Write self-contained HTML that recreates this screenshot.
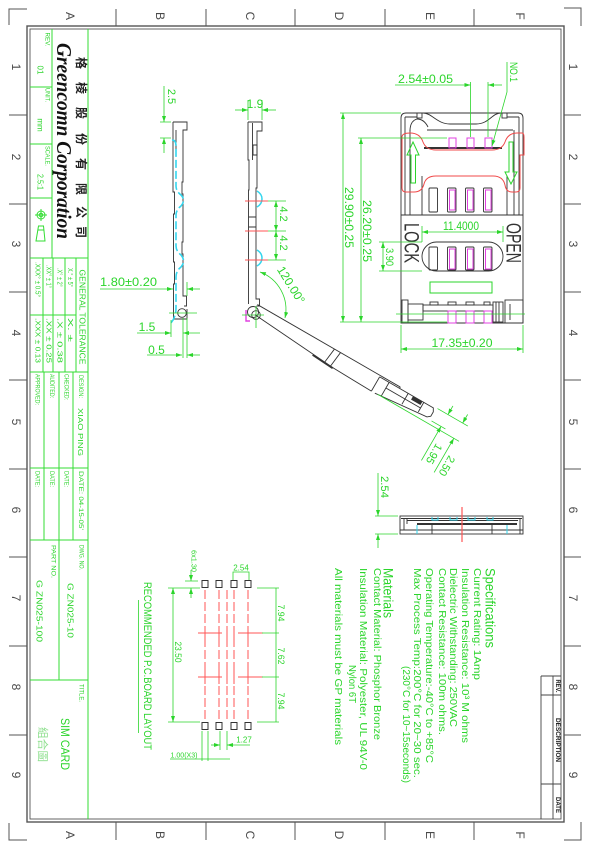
<!DOCTYPE html>
<html><head><meta charset="utf-8">
<style>
html,body{margin:0;padding:0;background:#fff;width:601px;height:850px;overflow:hidden}
svg{display:block}
text{font-family:"Liberation Sans","Noto Sans CJK SC",sans-serif}
.g{fill:#2bd52b}
.k{fill:#4a4a4a}
</style></head><body>
<svg width="601" height="850" viewBox="0 0 601 850" xmlns="http://www.w3.org/2000/svg">
<defs>
<marker id="ar" markerUnits="userSpaceOnUse" markerWidth="6" markerHeight="4" viewBox="0 0 6 4" refX="6" refY="2" orient="auto-start-reverse"><path d="M0,0 L6,2 L0,4 Z" fill="#2bd52b"/></marker>
</defs>
<rect width="601" height="850" fill="#fff"/>

<!-- ===== FRAME ===== -->
<g fill="none" stroke="#555">
<rect x="27" y="26" width="537" height="796" stroke-width="1.4"/>
<rect x="30" y="29" width="531" height="790" stroke-width="0.9"/>
<path d="M27,9 H9 V25 M564,8 H581 V26 M9,823 V840 H27 M581,822 V840 H564"/>
<path d="M116,9 V26 M206,9 V26 M295,9 V26 M385,9 V26 M474,9 V26 M116,822 V840 M206,822 V840 M295,822 V840 M385,822 V840 M474,822 V840"/>
<path d="M9,115 H27 M9,204 H27 M9,292 H27 M9,380 H27 M9,469 H27 M9,557 H27 M9,646 H27 M9,735 H27 M564,115 H581 M564,204 H581 M564,292 H581 M564,380 H581 M564,469 H581 M564,557 H581 M564,646 H581 M564,735 H581"/>
</g>
<g class="k" font-size="12" text-anchor="middle" dominant-baseline="central">
<text transform="translate(70,16) rotate(90)">A</text>
<text transform="translate(160,16) rotate(90)">B</text>
<text transform="translate(250,16) rotate(90)">C</text>
<text transform="translate(339,16) rotate(90)">D</text>
<text transform="translate(430,16) rotate(90)">E</text>
<text transform="translate(520,16) rotate(90)">F</text>
<text transform="translate(70,835) rotate(90)">A</text>
<text transform="translate(160,835) rotate(90)">B</text>
<text transform="translate(250,835) rotate(90)">C</text>
<text transform="translate(339,835) rotate(90)">D</text>
<text transform="translate(430,835) rotate(90)">E</text>
<text transform="translate(520,835) rotate(90)">F</text>
<text transform="translate(16,67) rotate(90)">1</text>
<text transform="translate(16,157) rotate(90)">2</text>
<text transform="translate(16,244) rotate(90)">3</text>
<text transform="translate(16,333) rotate(90)">4</text>
<text transform="translate(16,422) rotate(90)">5</text>
<text transform="translate(16,510) rotate(90)">6</text>
<text transform="translate(16,598) rotate(90)">7</text>
<text transform="translate(16,687) rotate(90)">8</text>
<text transform="translate(16,775) rotate(90)">9</text>
<text transform="translate(573,67) rotate(90)">1</text>
<text transform="translate(573,157) rotate(90)">2</text>
<text transform="translate(573,244) rotate(90)">3</text>
<text transform="translate(573,333) rotate(90)">4</text>
<text transform="translate(573,422) rotate(90)">5</text>
<text transform="translate(573,510) rotate(90)">6</text>
<text transform="translate(573,598) rotate(90)">7</text>
<text transform="translate(573,687) rotate(90)">8</text>
<text transform="translate(573,775) rotate(90)">9</text>
</g>

<!-- ===== TITLE BLOCK ===== -->
<g stroke="#33dd33" stroke-width="1" fill="none">
<path d="M88,29 V819 M52,29 V258 M30,87 H52 M30,144 H52 M30,198 H52 M30,258 H88"/>
<path d="M43,258 V372 M53,258 V372 M65,258 V372 M76,258 V372 M30,315 H76 M30,372 H88"/>
<path d="M44,372 V540 M59,372 V680 M73,372 V540 M30,468 H88 M30,540 H88 M30,680 H88"/>
<circle cx="41" cy="215" r="4"/>
<circle cx="41" cy="215" r="1.8"/>
<path d="M35,215 H47 M41,209 V221"/>
<path d="M38.5,226 H43.5 L45,241 H36 Z M38,230 H44"/>
</g>
<g class="g" text-anchor="middle" dominant-baseline="central">
<text transform="translate(47,39.5) rotate(90)" font-size="6.5" textLength="14" lengthAdjust="spacingAndGlyphs">REV.</text>
<text transform="translate(40,70) rotate(90)" font-size="8">01</text>
<text transform="translate(47,95) rotate(90)" font-size="6.5" textLength="14" lengthAdjust="spacingAndGlyphs">UNIT.</text>
<text transform="translate(40,125) rotate(90)" font-size="8">mm</text>
<text transform="translate(47,156) rotate(90)" font-size="6.5" textLength="20" lengthAdjust="spacingAndGlyphs">SCALE.</text>
<text transform="translate(40,182) rotate(90)" font-size="8" textLength="16" lengthAdjust="spacingAndGlyphs">2.5:1</text>
<text transform="translate(82,317) rotate(90)" font-size="8" textLength="95" lengthAdjust="spacingAndGlyphs">GENERAL  TOLERANCE</text>
<text transform="translate(69.5,277.5) rotate(90)" font-size="7" textLength="19" lengthAdjust="spacingAndGlyphs">X.° ± 5°</text>
<text transform="translate(59,277.5) rotate(90)" font-size="7" textLength="19" lengthAdjust="spacingAndGlyphs">.X° ± 2°</text>
<text transform="translate(48,276.5) rotate(90)" font-size="7" textLength="23" lengthAdjust="spacingAndGlyphs">.XX° ± 1°</text>
<text transform="translate(37,279.5) rotate(90)" font-size="7" textLength="35" lengthAdjust="spacingAndGlyphs">.XXX° ± 0.5°</text>
<text transform="translate(69.5,330) rotate(90)" font-size="7" textLength="24" lengthAdjust="spacingAndGlyphs">X.    ±</text>
<text transform="translate(59,340.5) rotate(90)" font-size="7" textLength="45" lengthAdjust="spacingAndGlyphs">.X   ± 0.38</text>
<text transform="translate(48,340.5) rotate(90)" font-size="7" textLength="45" lengthAdjust="spacingAndGlyphs">.XX  ± 0.25</text>
<text transform="translate(37,340.5) rotate(90)" font-size="7" textLength="45" lengthAdjust="spacingAndGlyphs">.XXX ± 0.13</text>
<text transform="translate(80.5,386.5) rotate(90)" font-size="6.5" textLength="23" lengthAdjust="spacingAndGlyphs">DESIGN:</text>
<text transform="translate(80.5,432) rotate(90)" font-size="7.5" textLength="48" lengthAdjust="spacingAndGlyphs">XIAO  PING</text>
<text transform="translate(66,387) rotate(90)" font-size="6.5" textLength="26" lengthAdjust="spacingAndGlyphs">CHECKED:</text>
<text transform="translate(51.5,386) rotate(90)" font-size="6.5" textLength="24" lengthAdjust="spacingAndGlyphs">AUDITED:</text>
<text transform="translate(37,389.5) rotate(90)" font-size="6.5" textLength="31" lengthAdjust="spacingAndGlyphs">APPROVED:</text>
<text transform="translate(80.5,500.5) rotate(90)" font-size="6.5" textLength="59" lengthAdjust="spacingAndGlyphs">DATE: 04-15-05'</text>
<text transform="translate(66,479) rotate(90)" font-size="6.5" textLength="16" lengthAdjust="spacingAndGlyphs">DATE:</text>
<text transform="translate(51.5,479) rotate(90)" font-size="6.5" textLength="16" lengthAdjust="spacingAndGlyphs">DATE:</text>
<text transform="translate(37,479) rotate(90)" font-size="6.5" textLength="16" lengthAdjust="spacingAndGlyphs">DATE:</text>
<text transform="translate(81,557.5) rotate(90)" font-size="6.5" textLength="25" lengthAdjust="spacingAndGlyphs">DWG. NO.</text>
<text transform="translate(70,610.5) rotate(90)" font-size="8" textLength="55" lengthAdjust="spacingAndGlyphs">G  ZN025-10</text>
<text transform="translate(53,561.5) rotate(90)" font-size="6.5" textLength="33" lengthAdjust="spacingAndGlyphs">PART NO.</text>
<text transform="translate(39,611) rotate(90)" font-size="8" textLength="62" lengthAdjust="spacingAndGlyphs">G  ZN025-100</text>
<text transform="translate(81,693) rotate(90)" font-size="6.5" textLength="18" lengthAdjust="spacingAndGlyphs">TITLE.</text>
<text transform="translate(65,744) rotate(90)" font-size="12" textLength="52" lengthAdjust="spacingAndGlyphs">SIM  CARD</text>
<text transform="translate(43,744.5) rotate(90)" font-size="11" style="fill:#8ddf8d;font-family:'Noto Sans CJK TC','Noto Sans CJK SC',sans-serif" textLength="35" lengthAdjust="spacingAndGlyphs">組合圖</text>
</g>
<!-- company name -->
<text transform="translate(57,43) rotate(90)" style="font-family:'Liberation Serif',serif;font-weight:bold;font-style:italic;font-size:21px;fill:#111" textLength="196" lengthAdjust="spacingAndGlyphs">Greencomn Corporation</text>
<g text-anchor="middle" dominant-baseline="central" style="font-family:'Noto Serif CJK SC','Noto Sans CJK SC',serif;font-size:12px;font-weight:bold;fill:#222">
<text transform="translate(81,63) rotate(90)">格</text>
<text transform="translate(81,88) rotate(90)">棱</text>
<text transform="translate(81,113) rotate(90)">股</text>
<text transform="translate(81,139) rotate(90)">份</text>
<text transform="translate(81,164) rotate(90)">有</text>
<text transform="translate(81,189) rotate(90)">限</text>
<text transform="translate(81,212) rotate(90)">公</text>
<text transform="translate(81,232) rotate(90)">司</text>
</g>

<!-- ===== REV box bottom right ===== -->
<g stroke="#444" fill="none" stroke-width="0.9">
<path d="M541,676 H561 M541,676 V819 M553,676 V819 M541,695 H561 M541,784 H561"/>
</g>
<g fill="#222" font-size="6" font-weight="bold" text-anchor="middle" dominant-baseline="central">
<text transform="translate(557,686) rotate(90)" textLength="13" lengthAdjust="spacingAndGlyphs">REV.</text>
<text transform="translate(557,740) rotate(90)" textLength="44" lengthAdjust="spacingAndGlyphs">DESCRIPTION</text>
<text transform="translate(557,805) rotate(90)" textLength="16" lengthAdjust="spacingAndGlyphs">DATE</text>
</g>

<!-- ===== SIDE VIEW 1 ===== -->
<g stroke="#333" stroke-width="0.9" fill="none">
<path d="M173,122 H187 V130 H183 V182 H182 V194 H183 V242 H182 V254 H183 V296 H186.5 V306 H184"/>
<path d="M173,122 V192 H174.5 V214 H173.5 V262 H174.5 V284 H173.5 V319 H187 V309"/>
<path d="M176,130 V150"/>
<circle cx="182" cy="313" r="4.3"/>
</g>
<path d="M172,140 Q176,140 176,146 V186 Q176,191 181,195 Q186,200 181,206 Q176,210 176,215 V246 Q176,251 181,255 Q186,261 181,267 Q176,271 176,277 V308 Q176,317 171,323" stroke="#33d6ee" stroke-width="1.6" fill="none" stroke-dasharray="8,3"/>
<g stroke="#2bd52b" stroke-width="0.8" fill="none">
<path d="M164,86 V122" marker-end="url(#ar)"/>
<path d="M164,153 V138" marker-end="url(#ar)"/>
<path d="M160,122 H171 M160,138 H171"/>
<path d="M100,289 H173" marker-end="url(#ar)"/>
<path d="M200,289 H187" marker-end="url(#ar)"/>
<path d="M187,282 V296"/>
<path d="M137,333 H171" marker-end="url(#ar)"/>
<path d="M200,333 H183" marker-end="url(#ar)"/>
<path d="M171,320 V337 M183,318 V358"/>
<path d="M147,355 H182" marker-end="url(#ar)"/>
<path d="M200,355 H187" marker-end="url(#ar)"/>
<path d="M187,318 V358"/>
<path d="M169,313 H197"/>
</g>
<g class="g" dominant-baseline="central">
<text transform="translate(171,96.5) rotate(90)" font-size="11" text-anchor="middle">2.5</text>
<text x="100" y="282" font-size="12" textLength="57" lengthAdjust="spacingAndGlyphs">1.80±0.20</text>
<text x="147" y="327" font-size="12" text-anchor="middle">1.5</text>
<text x="156.5" y="350" font-size="12" text-anchor="middle">0.5</text>
</g>

<!-- ===== SIDE VIEW 2 (lid open) ===== -->
<g stroke="#333" stroke-width="0.9" fill="none">
<path d="M248,122 H262 V131 H257 V188 H256 V299 H259.5 V306 H256.5"/>
<path d="M248,122 V160 H249 V190 H248.5 V304"/>
<path d="M252.5,123 V160 M253,145 H257 V155 H253 Z M248.5,217 H256 M248.5,227 H256"/>
<circle cx="256" cy="315" r="4.3"/>
<circle cx="253" cy="312" r="5.5"/>
</g>
<path d="M257,191 Q262,194 262,199 Q262,204 257,207 M257,250 Q262,253 262,258 Q262,263 257,266" stroke="#33d6ee" stroke-width="1.5" fill="none"/>
<path d="M245,201 H268 M245,231 H268 M245,260 H268" stroke="#f55" stroke-width="1"/>
<path d="M246,310 V321 H250" stroke="#e040e0" stroke-width="1.4" fill="none"/>
<g stroke="#2bd52b" stroke-width="0.8" fill="none">
<path d="M268,201 H286 M268,231 H286 M268,260 H286"/>
<path d="M276,201 V231" marker-start="url(#ar)" marker-end="url(#ar)"/>
<path d="M276,231 V260" marker-start="url(#ar)" marker-end="url(#ar)"/>
<path d="M248,100 V120 M262,100 V120"/>
<path d="M235,110 H248" marker-end="url(#ar)"/>
<path d="M276,110 H262" marker-end="url(#ar)"/>
<path d="M242,315 H264 M256,306 V328"/>
<path d="M260,272 A40,40 0 0 1 285,318" marker-start="url(#ar)" marker-end="url(#ar)"/>
</g>
<g class="g" dominant-baseline="central" text-anchor="middle">
<text transform="translate(283,214) rotate(90)" font-size="11">4.2</text>
<text transform="translate(283,243) rotate(90)" font-size="11">4.2</text>
<text x="255" y="104" font-size="12">1.9</text>
<text transform="translate(291,285) rotate(58)" font-size="12">120.00°</text>
</g>
<!-- lid -->
<g transform="translate(256,313) rotate(30)" stroke="#333" stroke-width="0.9" fill="none">
<path d="M-3,-8 H162"/>
<path d="M0,2 L95,9 L139,10"/>
<path d="M139,-6.5 H201 L203,-3 V2 L200,4.5 L143,10"/>
<path d="M139,-6.5 V10 M162,-8 V-6.5"/>
<path d="M86,-8 L84,8.7 M93,-8 L91,9.2"/>
<path d="M150,-6.5 V9 M172,-6.5 V6 M190,-6.5 V4.5 M150,0 H190"/>
<path d="M70,8 L94,9.5" stroke-width="1.8"/>
<rect x="178" y="-6" width="10" height="3" fill="#333"/>
</g>
<g transform="translate(256,313) rotate(30)" stroke="#2bd52b" stroke-width="0.8" fill="none">
<path d="M205,-8 H240 M206,5.7 H222 M146,9.6 H240"/>
<path d="M217,-18 V-8" marker-end="url(#ar)"/>
<path d="M217,45 V5.7" marker-end="url(#ar)"/>
<path d="M234,-18 V-8" marker-end="url(#ar)"/>
<path d="M234,49 V9.6" marker-end="url(#ar)"/>
</g>
<g transform="translate(256,313) rotate(30)" class="g" text-anchor="middle" dominant-baseline="central" font-size="11">
<text transform="translate(224,33) rotate(90)">1.95</text>
<text transform="translate(241,37) rotate(90)">2.50</text>
</g>

<!-- ===== TOP VIEW ===== -->
<g stroke="#333" stroke-width="0.9" fill="none">
<path d="M401,323 V118 Q401,113 406,113 H518 Q523,113 523,118 V323 Z"/>
<path d="M405,117 V215 M519,117 V215 M405,117 H417 M507,117 H519 M410,130 V215 M514,130 V215"/>
<path d="M423,113 C432,113 437,124 450,124 H476 C489,124 492,113 501,113"/>
<path d="M427,130 H513"/>
<path d="M410,131 Q410,121 417,119 Q424,119 428,127"/>
<rect x="417" y="113" width="5" height="5"/>
<rect x="502" y="113" width="5" height="5"/>
<path d="M424,148 H502" stroke-width="2"/>
<path d="M422,176 V215 M507,176 V215 M401,215 H523"/>
<rect x="429" y="188" width="8.5" height="24" rx="1"/>
<rect x="447.5" y="188" width="8.5" height="24" rx="1"/>
<rect x="465.5" y="188" width="8.5" height="24" rx="1"/>
<rect x="483.5" y="188" width="8.5" height="24" rx="1"/>
<rect x="422" y="242" width="81" height="29" rx="14.5"/>
<rect x="429" y="247" width="8.5" height="23" rx="1"/>
<rect x="447.5" y="247" width="8.5" height="23" rx="1"/>
<rect x="465.5" y="247" width="8.5" height="23" rx="1"/>
<rect x="483.5" y="247" width="8.5" height="23" rx="1"/>
<rect x="402" y="300" width="6" height="23"/>
<rect x="408" y="304" width="15" height="16"/>
<rect x="493" y="302" width="10" height="20"/>
<rect x="505" y="300" width="18" height="23"/>
<path d="M496,302 V322 M499,302 V322 M510,304 V320"/>
<rect x="423" y="305" width="70" height="6"/>
<rect x="430" y="302" width="8" height="3"/>
<rect x="448" y="302" width="8" height="3"/>
<rect x="466" y="302" width="8" height="3"/>
<rect x="484" y="302" width="6" height="3"/>
</g>
<g stroke="#e040e0" stroke-width="1" fill="none">
<rect x="449" y="138" width="7" height="10"/>
<rect x="467" y="138" width="7" height="10"/>
<rect x="485" y="138" width="7" height="10"/>
<rect x="449.5" y="190" width="5.5" height="20"/>
<rect x="467.5" y="190" width="5.5" height="20"/>
<rect x="485.5" y="190" width="5.5" height="20"/>
<rect x="449.5" y="249" width="5.5" height="20"/>
<rect x="467.5" y="249" width="5.5" height="20"/>
<rect x="485.5" y="249" width="5.5" height="20"/>
<rect x="448" y="311" width="8" height="12"/>
<rect x="466" y="311" width="8" height="12"/>
<rect x="484" y="311" width="8" height="12"/>
</g>
<path d="M402,137 Q402,133 410,133 Q420,133 423,142 Q426,150 436,150 L492,150 Q502,150 505,142 Q508,133 517,133 L522,133 Q524,133 524,137 L524,155 L520,155 L520,188 Q520,192 516,192 L512,192 Q506,192 505,185 Q503,176 493,176 L436,176 Q426,176 424,184 Q422,192 414,192 L406,192 Q402,192 402,188 Z" stroke="#f04a4a" stroke-width="1" fill="none"/>
<g stroke="#2bd52b" stroke-width="1" fill="none">
<path d="M413,142 L407,155 H411 V183 H415.5 V155 H419 Z"/>
<path d="M509,142 V172 H505 L511,184 L517,172 H513 V142 Z"/>
<rect x="430" y="282" width="62" height="11"/>
</g>
<g fill="#333" font-size="21" text-anchor="middle" dominant-baseline="central">
<text transform="translate(411,243) rotate(90)" textLength="40" lengthAdjust="spacingAndGlyphs">LOCK</text>
<text transform="translate(513,243) rotate(90)" textLength="40" lengthAdjust="spacingAndGlyphs">OPEN</text>
</g>
<g stroke="#2bd52b" stroke-width="0.8" fill="none">
<path d="M340,113 H401 M358,138 H447 M340,322 H447"/>
<path d="M343,113 V322" marker-start="url(#ar)" marker-end="url(#ar)"/>
<path d="M361,138 V322" marker-start="url(#ar)" marker-end="url(#ar)"/>
<path d="M422,226 V242 M503,226 V242"/>
<path d="M422,232 H503" marker-start="url(#ar)" marker-end="url(#ar)"/>
<path d="M379,242 H422 M379,271 H422"/>
<path d="M383,242 V271" marker-start="url(#ar)" marker-end="url(#ar)"/>
<path d="M401,325 V353 M523,325 V353"/>
<path d="M401,349 H523" marker-start="url(#ar)" marker-end="url(#ar)"/>
<path d="M396,314 H525"/>
<path d="M470.5,82 V137 M488,82 V137"/>
<path d="M395,85 H470.5" marker-end="url(#ar)"/>
<path d="M502,85 H488" marker-end="url(#ar)"/>
<path d="M507,62 V92 L492,146" marker-end="url(#ar)"/>
</g>
<g class="g" dominant-baseline="central" text-anchor="middle">
<text transform="translate(349,217.5) rotate(90)" font-size="12" textLength="61" lengthAdjust="spacingAndGlyphs">29.90±0.25</text>
<text transform="translate(367,231) rotate(90)" font-size="12" textLength="62" lengthAdjust="spacingAndGlyphs">26.20±0.25</text>
<text transform="translate(389,257) rotate(90)" font-size="11" textLength="18" lengthAdjust="spacingAndGlyphs">3.90</text>
<text transform="translate(513,72) rotate(90)" font-size="11" textLength="20" lengthAdjust="spacingAndGlyphs">NO.1</text>
<text x="461" y="226" font-size="12" textLength="36" lengthAdjust="spacingAndGlyphs">11.4000</text>
<text x="462" y="343" font-size="12" textLength="61" lengthAdjust="spacingAndGlyphs">17.35±0.20</text>
<text x="425.5" y="79" font-size="12" textLength="55" lengthAdjust="spacingAndGlyphs">2.54±0.05</text>
</g>

<!-- ===== BOTTOM VIEW ===== -->
<g stroke="#333" stroke-width="0.9" fill="none">
<rect x="400" y="516" width="123" height="18"/>
<path d="M401,518.5 H522 M407,518.5 V524 M404,518.5 V530 M407,520.5 H518 M400,530 H523 M432,524 V534 M492,524 V534 M520,518.5 V534"/>
<path d="M417,524 H517" stroke-width="2"/>
</g>
<path d="M432,517 V520 H438 V517 M450,517 V520 H457 V517 M468,517 V520 H475 V517 M487,517 V520 H493 V517 M417,525 V534 M507,525 V534" stroke="#33d6ee" stroke-width="1" fill="none"/>
<path d="M462,507 V542" stroke="#f55" stroke-width="1.2"/>
<g stroke="#2bd52b" stroke-width="0.8" fill="none">
<path d="M375,516 H398 M375,534 H398"/>
<path d="M378,473 V516" marker-end="url(#ar)"/>
<path d="M378,548 V534" marker-end="url(#ar)"/>
</g>
<text transform="translate(384,487) rotate(90)" class="g" font-size="11" text-anchor="middle" dominant-baseline="central" textLength="22" lengthAdjust="spacingAndGlyphs">2.54</text>

<!-- ===== SPECIFICATIONS ===== -->
<g class="g" dominant-baseline="central">
<text transform="translate(490,568) rotate(90)" font-size="13.5" textLength="80" lengthAdjust="spacingAndGlyphs">Specifications</text>
<text transform="translate(477,568) rotate(90)" font-size="10.5" textLength="112" lengthAdjust="spacingAndGlyphs">Current Rating:  1Amp</text>
<text transform="translate(465,568) rotate(90)" font-size="10.5" textLength="175" lengthAdjust="spacingAndGlyphs">Insulation Resistance:  10³ M ohms</text>
<text transform="translate(453,568) rotate(90)" font-size="10.5" textLength="159" lengthAdjust="spacingAndGlyphs">Dielectric Withstanding:  250VAC</text>
<text transform="translate(442,568) rotate(90)" font-size="10.5" textLength="167" lengthAdjust="spacingAndGlyphs">Contact Resistance:  100m ohms.</text>
<text transform="translate(429,568) rotate(90)" font-size="10.5" textLength="195" lengthAdjust="spacingAndGlyphs">Operating Temperature:-40°C to +85°C</text>
<text transform="translate(417,568) rotate(90)" font-size="10.5" textLength="210" lengthAdjust="spacingAndGlyphs">Max Process Temp:200°C for 20~30 sec.</text>
<text transform="translate(406,666) rotate(90)" font-size="10.5" textLength="117" lengthAdjust="spacingAndGlyphs">(230°C for 10~15seconds)</text>
<text transform="translate(388,568) rotate(90)" font-size="13.5" textLength="50" lengthAdjust="spacingAndGlyphs">Materials</text>
<text transform="translate(377,568) rotate(90)" font-size="10.5" textLength="172" lengthAdjust="spacingAndGlyphs">Contact Material: Phosphor Bronze</text>
<text transform="translate(363,568) rotate(90)" font-size="10.5" textLength="202" lengthAdjust="spacingAndGlyphs">Insulation Material: Polyester, UL 94V-0</text>
<text transform="translate(352,665) rotate(90)" font-size="10.5" textLength="38" lengthAdjust="spacingAndGlyphs">Nylon 6T</text>
<text transform="translate(338,568) rotate(90)" font-size="10.5" textLength="177" lengthAdjust="spacingAndGlyphs">All materials must be GP materials</text>
</g>

<!-- ===== PCB LAYOUT ===== -->
<g stroke="#f55" stroke-width="1" fill="none">
<path d="M205,590 V720 M219,590 V720 M227,590 V720 M234,590 V720 M248,590 V720" stroke-dasharray="9,3"/>
<path d="M198,633 H222 M238,633 H263 M198,677 H222 M238,677 H263"/>
<path d="M205,626 V640 M219,626 V640 M227,626 V640 M234,626 V640 M248,626 V640 M205,670 V684 M219,670 V684 M227,670 V684 M234,670 V684 M248,670 V684"/>
</g>
<g stroke="#333" stroke-width="1" fill="#fff">
<rect x="202" y="580.5" width="6" height="7"/>
<rect x="216" y="580.5" width="6" height="7"/>
<rect x="231" y="580.5" width="6" height="7"/>
<rect x="245" y="580.5" width="6" height="7"/>
<rect x="202" y="722.5" width="6" height="7"/>
<rect x="216" y="722.5" width="6" height="7"/>
<rect x="231" y="722.5" width="6" height="7"/>
<rect x="245" y="722.5" width="6" height="7"/>
</g>
<g stroke="#2bd52b" stroke-width="0.8" fill="none">
<path d="M185,581 H198 M168,588 H200 M168,722 H200"/>
<path d="M191,570 V581" marker-end="url(#ar)"/>
<path d="M191,598 V588" marker-end="url(#ar)"/>
<path d="M173,588 V722" marker-start="url(#ar)" marker-end="url(#ar)"/>
<path d="M233,580 V572 H249 V580"/>
<path d="M257,588 H279 M262,633 H279 M262,677 H279 M257,722 H279"/>
<path d="M276,588 V722"/>
<path d="M220,731 V750 M227,731 V750"/>
<path d="M211,745 H220" marker-end="url(#ar)"/>
<path d="M250,745 H227" marker-end="url(#ar)"/>
<path d="M202,731 V761 M208,731 V761 M170,759 H230"/>
<path d="M138.5,600 V733"/>
</g>
<g class="g" dominant-baseline="central" text-anchor="middle">
<text transform="translate(193,561) rotate(90)" font-size="7" textLength="22" lengthAdjust="spacingAndGlyphs">6x1.30</text>
<text transform="translate(178,652) rotate(90)" font-size="9" textLength="21" lengthAdjust="spacingAndGlyphs">23.50</text>
<text transform="translate(281,613) rotate(90)" font-size="9" textLength="17" lengthAdjust="spacingAndGlyphs">7.94</text>
<text transform="translate(281,656) rotate(90)" font-size="9" textLength="17" lengthAdjust="spacingAndGlyphs">7.62</text>
<text transform="translate(281,701) rotate(90)" font-size="9" textLength="17" lengthAdjust="spacingAndGlyphs">7.94</text>
<text transform="translate(147,666) rotate(90)" font-size="11" textLength="168" lengthAdjust="spacingAndGlyphs">RECOMMENDED  P.C.BOARD  LAYOUT</text>
<text x="241" y="568" font-size="8">2.54</text>
<text x="244" y="740" font-size="8">1.27</text>
<text x="184" y="755" font-size="7.5" textLength="27" lengthAdjust="spacingAndGlyphs">1.00(X3)</text>
</g>
</svg>
</body></html>
